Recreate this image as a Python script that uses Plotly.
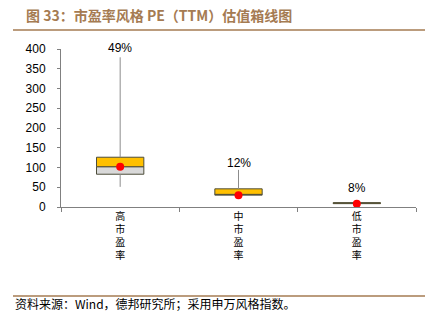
import plotly.graph_objects as go

# PE (TTM) distribution by style, per category
categories = ["高市盈率", "中市盈率", "低市盈率"]
lower_fence = [51, 30, 8]
q1 = [83, 30, 8.5]
median = [102, 32, 9.5]
q3 = [126, 46, 11]
upper_fence = [379, 94, 12]
mean_val = [102, 30, 8]
pct_labels = ["49%", "12%", "8%"]
tick_text = ["<br>".join(list(c)) for c in categories]

# vertical pixel offset of each percentage label above its whisker
label_shift = [9, 7, 14]

FONT = "Liberation Sans, Arial, sans-serif"
CJK = "Noto Sans CJK SC"
BROWN = "#a57b52"

fig = go.Figure()

# whiskers
wx, wy = [], []
for c, lo, a, b, hi in zip(categories, lower_fence, q1, q3, upper_fence):
    wx += [c, c, None, c, c, None]
    wy += [lo, a, None, b, hi, None]
fig.add_trace(go.Scatter(x=wx, y=wy, mode="lines",
                         line=dict(color="#8c8c8c", width=1),
                         hoverinfo="skip", showlegend=False))

# lower half of box (q1 -> median)
fig.add_trace(go.Bar(x=categories,
                     y=[m - a for m, a in zip(median, q1)],
                     base=q1, width=0.4,
                     marker=dict(color="#d9d9d9", line=dict(color="#4d4d3a", width=1)),
                     showlegend=False))
# upper half of box (median -> q3)
fig.add_trace(go.Bar(x=categories,
                     y=[b - m for b, m in zip(q3, median)],
                     base=median, width=0.4,
                     marker=dict(color="#ffc000", line=dict(color="#4d4d3a", width=1)),
                     showlegend=False))

# mean markers
fig.add_trace(go.Scatter(x=categories, y=mean_val, mode="markers",
                         marker=dict(color="#ff0000", size=8),
                         showlegend=False, cliponaxis=False))

# percentage labels above the whiskers
label_annots = [
    dict(x=c, y=hi, xref="x", yref="y", text=t, showarrow=False,
         yanchor="middle", yshift=s,
         font=dict(family=FONT, size=12, color="#000000"))
    for c, hi, t, s in zip(categories, upper_fence, pct_labels, label_shift)
]

fig.update_layout(
    width=437, height=323,
    margin=dict(l=61, r=21, t=49, b=116),
    paper_bgcolor="white", plot_bgcolor="white",
    barmode="overlay",
    font=dict(family=FONT, size=12, color="#000000"),
    xaxis=dict(
        type="category",
        tickmode="array", tickvals=categories, ticktext=tick_text,
        tickson="boundaries", ticks="outside", ticklen=4,
        tickcolor="#808080",
        showline=True, linecolor="#808080", linewidth=1,
        showgrid=False, zeroline=False,
        tickfont=dict(family=CJK, size=10, color="#000000"),
        tickangle=0,
    ),
    yaxis=dict(
        range=[0, 400], dtick=50,
        ticks="outside", ticklen=3, tickcolor="#808080",
        ticklabelstandoff=9,
        showline=True, linecolor="#808080", linewidth=1,
        showgrid=False, zeroline=False,
        tickfont=dict(family=FONT, size=12, color="#000000"),
    ),
)

# header/footer placed in pixel terms relative to the plot area
plot_h = 323 - 49 - 116
plot_w = 437 - 61 - 21
def px_x(px):
    return (px - 61) / plot_w
def px_y(py):
    return (323 - 116 - py) / plot_h

frame_annots = [
    dict(text="<b>图 33：市盈率风格 PE（TTM）估值箱线图</b>",
         xref="paper", yref="paper", x=px_x(24), xanchor="left",
         y=px_y(15), yanchor="middle", showarrow=False,
         font=dict(family=CJK, size=14, color=BROWN)),
    dict(text="资料来源：Wind，德邦研究所；采用申万风格指数。",
         xref="paper", yref="paper", x=px_x(13), xanchor="left",
         y=px_y(303), yanchor="middle", showarrow=False,
         font=dict(family=CJK, size=12, color="#000000")),
]
fig.update_layout(annotations=label_annots + frame_annots)

fig.add_shape(type="line", xref="paper", yref="paper",
              x0=px_x(13), x1=px_x(425), y0=px_y(30), y1=px_y(30),
              line=dict(color=BROWN, width=1.5))
fig.add_shape(type="line", xref="paper", yref="paper",
              x0=px_x(13), x1=px_x(425), y0=px_y(296), y1=px_y(296),
              line=dict(color=BROWN, width=1.5))

fig.write_html("out.html")
